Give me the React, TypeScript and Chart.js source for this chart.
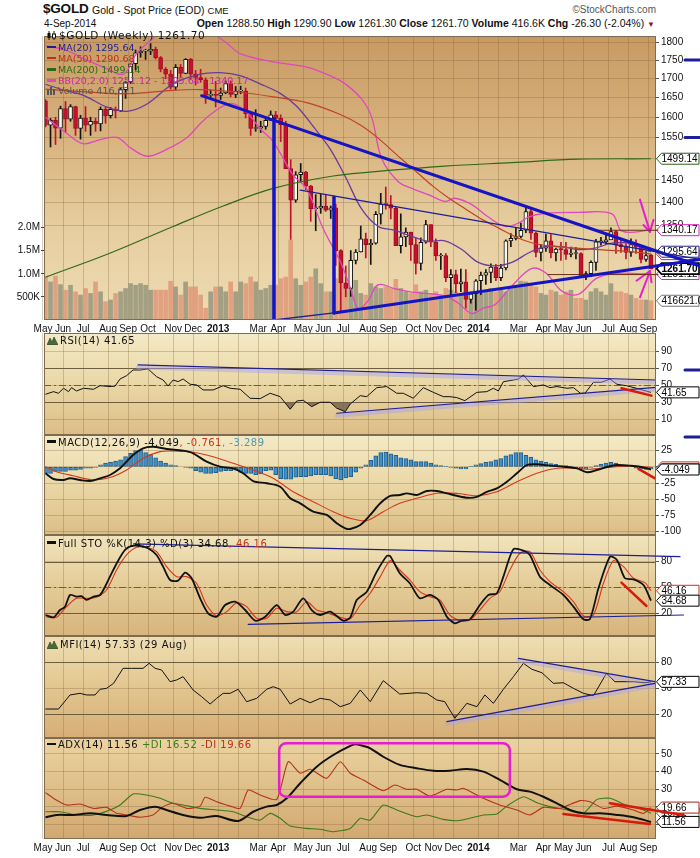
import React, { useEffect, useRef } from 'react';
import { Chart, registerables } from 'chart.js';

Chart.register(...registerables);

const FONT = '"Liberation Sans", Arial, Helvetica, sans-serif';
const LFONT = '"DejaVu Sans", Verdana, sans-serif';
const GRID = 'rgba(125,95,55,0.30)';
const X_MIN = -0.3;
const X_MAX = 122;

// week index 0 = week of 7 May 2012 ... 121 = week of 1 Sep 2014
const MONTH_TICKS = [0, 4, 8, 13, 17, 21, 26, 30, 35, 39, 43, 47, 52, 56, 60, 65, 69, 74, 78, 82, 87, 91, 95, 100, 104, 108, 113, 117, 121];
const MONTH_LABELS = ['May', 'Jun', 'Jul', 'Aug', 'Sep', 'Oct', 'Nov', 'Dec', '2013', '', 'Mar', 'Apr', 'May', 'Jun', 'Jul', 'Aug', 'Sep', 'Oct', 'Nov', 'Dec', '2014', '', 'Mar', 'Apr', 'May', 'Jun', 'Jul', 'Aug', 'Sep'];

const PRICE_TICKS = [1350, 1400, 1450, 1500, 1550, 1600, 1650, 1700, 1750, 1800];
const VOL_TICKS = [500000, 1000000, 1500000, 2000000];
const RSI_TICKS = [90, 70, 50, 30, 10];
const MACD_TICKS = [25, 0, -25, -50, -75, -100];
const STO_TICKS = [80, 50, 20];
const MFI_TICKS = [80, 50, 20];
const ADX_TICKS = [50, 40, 30, 20, 10];

const OPEN = [
  1642, 1580, 1592, 1573, 1622, 1595, 1627, 1572, 1598, 1580,
  1590, 1583, 1620, 1604, 1620, 1616, 1671, 1691, 1740, 1770,
  1775, 1775, 1780, 1757, 1725, 1712, 1677, 1730, 1714, 1752,
  1712, 1703, 1697, 1656, 1657, 1656, 1662, 1687, 1658, 1667,
  1667, 1609, 1572, 1573, 1577, 1592, 1606, 1597, 1581, 1476,
  1405, 1462, 1468, 1436, 1386, 1387, 1392, 1383, 1388, 1298,
  1234, 1223, 1278, 1295, 1322, 1310, 1313, 1374, 1396, 1395,
  1387, 1308, 1326, 1336, 1310, 1272, 1315, 1352, 1315, 1287,
  1288, 1244, 1250, 1232, 1236, 1202, 1213, 1238, 1249, 1254,
  1265, 1244, 1263, 1318, 1323, 1327, 1340, 1380, 1334, 1294,
  1303, 1318, 1293, 1301, 1300, 1290, 1292, 1292, 1245, 1252,
  1274, 1316, 1316, 1320, 1337, 1310, 1306, 1294, 1310, 1305,
  1280, 1288.5];
const HIGH = [
  1645, 1597, 1600, 1628, 1640, 1632, 1628, 1605, 1627, 1600,
  1598, 1626, 1625, 1625, 1626, 1675, 1692, 1740, 1778, 1787,
  1780, 1796, 1786, 1760, 1730, 1722, 1738, 1738, 1754, 1755,
  1722, 1725, 1702, 1670, 1693, 1675, 1694, 1694, 1679, 1680,
  1675, 1611, 1619, 1590, 1597, 1616, 1615, 1606, 1590, 1497,
  1469, 1488, 1470, 1438, 1417, 1418, 1416, 1392, 1396, 1300,
  1267, 1298, 1300, 1349, 1334, 1321, 1380, 1420, 1434, 1415,
  1390, 1375, 1345, 1336, 1324, 1324, 1361, 1352, 1322, 1292,
  1292, 1260, 1259, 1261, 1260, 1216, 1240, 1255, 1260, 1271,
  1270, 1270, 1320, 1333, 1346, 1355, 1392, 1385, 1336, 1310,
  1332, 1331, 1303, 1315, 1315, 1305, 1304, 1294, 1256, 1277,
  1321, 1325, 1332, 1345, 1340, 1320, 1312, 1322, 1320, 1305,
  1296, 1290.9];
const LOW = [
  1576, 1527, 1533, 1548, 1563, 1590, 1555, 1546, 1565, 1555,
  1565, 1566, 1585, 1598, 1598, 1614, 1648, 1687, 1724, 1758,
  1752, 1765, 1753, 1718, 1700, 1672, 1671, 1705, 1713, 1698,
  1683, 1690, 1635, 1650, 1626, 1645, 1660, 1652, 1650, 1660,
  1598, 1555, 1565, 1562, 1570, 1592, 1590, 1540, 1476, 1321,
  1400, 1444, 1428, 1359, 1339, 1376, 1380, 1365, 1268, 1180,
  1207, 1208, 1271, 1295, 1283, 1270, 1311, 1353, 1385, 1364,
  1308, 1293, 1306, 1278, 1251, 1259, 1313, 1306, 1278, 1260,
  1236, 1211, 1215, 1217, 1186, 1195, 1182, 1211, 1231, 1234,
  1238, 1238, 1259, 1306, 1320, 1324, 1335, 1321, 1285, 1277,
  1296, 1283, 1277, 1278, 1280, 1285, 1281, 1245, 1240, 1246,
  1258, 1309, 1310, 1321, 1292, 1294, 1281, 1286, 1292, 1273,
  1276, 1261.3];
const CLOSE = [
  1580, 1592, 1573, 1622, 1595, 1627, 1572, 1598, 1580, 1590,
  1583, 1620, 1604, 1620, 1616, 1671, 1691, 1740, 1770, 1775,
  1775, 1780, 1757, 1725, 1712, 1677, 1730, 1714, 1752, 1712,
  1703, 1697, 1656, 1657, 1656, 1662, 1687, 1658, 1667, 1667,
  1609, 1572, 1573, 1577, 1592, 1606, 1597, 1581, 1476, 1405,
  1462, 1468, 1436, 1386, 1387, 1392, 1383, 1388, 1298, 1234,
  1223, 1278, 1295, 1322, 1310, 1313, 1374, 1396, 1395, 1387,
  1308, 1326, 1336, 1310, 1272, 1315, 1352, 1315, 1287, 1288,
  1244, 1250, 1232, 1236, 1202, 1213, 1238, 1249, 1254, 1265,
  1244, 1263, 1318, 1323, 1327, 1340, 1380, 1334, 1294, 1303,
  1318, 1293, 1301, 1300, 1290, 1293, 1292, 1245, 1252, 1274,
  1316, 1316, 1320, 1337, 1310, 1306, 1294, 1310, 1305, 1280,
  1288, 1261.7];
// thousands
const VOLUME = [
  930, 824, 950, 765, 646, 752, 611, 540, 682, 575,
  824, 611, 398, 433, 575, 611, 682, 788, 752, 788,
  752, 646, 646, 646, 646, 840, 717, 540, 824, 717,
  717, 540, 256, 611, 717, 717, 611, 824, 611, 824,
  788, 930, 824, 646, 682, 752, 752, 895, 930, 1733,
  895, 752, 824, 930, 1108, 788, 611, 611, 895, 824,
  752, 682, 859, 575, 540, 788, 717, 682, 717, 682,
  880, 682, 611, 575, 765, 611, 646, 575, 611, 540,
  682, 646, 611, 540, 611, 433, 682, 611, 611, 682,
  611, 646, 611, 682, 752, 840, 824, 788, 717, 575,
  540, 646, 611, 540, 611, 646, 469, 469, 433, 611,
  682, 611, 540, 788, 611, 611, 575, 540, 469, 433,
  433, 416.6];

// [week, value] readings of overlay lines
const MA20 = [[0, 1685], [4, 1668], [7.6, 1656], [12.2, 1626], [16.2, 1615], [20.2, 1633], [25.5, 1686], [30.9, 1712], [34.9, 1716], [38.9, 1708], [42.9, 1686], [46.9, 1661], [50.2, 1628], [53.5, 1577], [56.9, 1522], [59.9, 1458], [63.2, 1385], [66.5, 1348], [69.8, 1340], [73.2, 1327], [76.5, 1317], [79.8, 1318], [83.2, 1300], [86.5, 1274], [89.8, 1267], [93.2, 1274], [96.5, 1293], [99.8, 1306], [103.2, 1306], [106.5, 1300], [109.8, 1303], [113.2, 1313], [116.5, 1313], [121, 1295.64]];
const MA50 = [[0, 1672], [8, 1665], [16.5, 1660], [25.5, 1669], [30.9, 1671], [38.9, 1664], [45.5, 1652], [52.2, 1637], [58.9, 1607], [63, 1580], [66.4, 1549], [70.8, 1502], [74, 1470], [77.4, 1436], [80.5, 1410], [84, 1385], [87.4, 1362], [90.5, 1345], [94.2, 1325], [97.5, 1313], [101, 1307], [106, 1303], [112, 1299], [117, 1296], [121, 1290.68]];
const MA200 = [[0, 1245], [12.2, 1290], [25.5, 1348], [35.5, 1392], [45.5, 1431], [57.5, 1459], [69.8, 1473], [79.8, 1482], [93.2, 1490], [106.4, 1498], [121, 1499.14]];
const BB_UP = [[0, 1790], [4, 1778], [8, 1752], [12, 1728], [15.6, 1712], [18.2, 1768], [21, 1805], [24, 1838], [28, 1848], [32, 1835], [36, 1800], [38.9, 1768], [45.5, 1745], [52.2, 1731], [57.5, 1704], [59.9, 1686], [63.2, 1646], [65.2, 1599], [67.2, 1499], [70.5, 1446], [73.2, 1431], [76.5, 1417], [79.8, 1402], [81.8, 1409], [85.2, 1395], [88.5, 1368], [91.8, 1348], [94.5, 1355], [96.5, 1368], [99.8, 1376], [106.5, 1378], [113.2, 1375], [115.2, 1338], [121, 1340.17]];
const BB_LOW = [[0, 1600], [4, 1562], [7.5, 1535], [11, 1545], [14.3, 1550], [17, 1525], [20.3, 1505], [24, 1520], [28.3, 1550], [31, 1585], [33.5, 1612], [37, 1635], [40, 1615], [43, 1570], [45.5, 1540], [49.5, 1461], [52.2, 1430], [55.5, 1343], [58.9, 1276], [60.9, 1225], [62.5, 1185], [64.5, 1200], [66.4, 1230], [70, 1222], [73.2, 1216], [79.8, 1209], [82.5, 1195], [85.2, 1176], [87.5, 1186], [89.8, 1192], [93.2, 1228], [97.2, 1262], [100, 1253], [103.2, 1218], [106.5, 1212], [110, 1242], [113.5, 1252], [121, 1251.12]];

const RSI = [[0, 39.4], [1.6, 42.5], [2.6, 40.6], [3.6, 46.5], [4.6, 42.5], [5.2, 47.2], [6.2, 43.3], [7.6, 46.5], [9.6, 45.3], [10.9, 49.5], [12.9, 48.5], [13.9, 49], [14.9, 57.4], [16.2, 61.3], [17.5, 68], [18.9, 68], [20.5, 69.2], [22.2, 60.1], [23.5, 56.2], [24.5, 49.2], [25.5, 56.2], [26.5, 54.3], [27.5, 57.4], [28.9, 51.2], [30.2, 50.4], [31.5, 44.5], [33.5, 44.5], [35.5, 49.5], [36.9, 46.5], [38.9, 45.3], [40.9, 34.7], [42.9, 34.3], [44.9, 40.6], [46.9, 36.6], [48.9, 21.8], [50.2, 31.5], [51.5, 32.4], [53.2, 24.8], [54.9, 30], [56.9, 30], [58.2, 23], [59.9, 19], [60.9, 28], [62.9, 37.8], [64.2, 36.6], [66.2, 47.2], [68.2, 48.5], [70.2, 40.6], [71.5, 40.6], [73.5, 34.7], [75.5, 47.2], [77.5, 41.7], [79.5, 36.6], [80.8, 36.6], [82.2, 35.5], [83.8, 31.9], [86.2, 41.7], [88.2, 42.5], [89.5, 46.5], [90.5, 43.3], [91.5, 54.2], [93.5, 56.2], [94.5, 57.4], [95.5, 62.1], [97.5, 48.4], [99.5, 50.4], [100.8, 47.2], [102.2, 48.5], [104.2, 46.5], [105.5, 47.2], [106.9, 40.6], [107.8, 40.6], [109.5, 53.5], [111.1, 53.5], [112.8, 57.4], [114.2, 51.2], [116.1, 49.5], [118.1, 46.5], [121, 41.65]];

const MACD = [[0, -9.9], [1.6, -18.7], [3.6, -20.2], [4.9, -17.6], [6.9, -20.2], [8.9, -21.8], [10.9, -17.6], [12.9, -12.5], [14.9, -2.2], [16.2, 8], [17.5, 18.4], [19.5, 28.7], [21.5, 31], [24.2, 27.6], [27.5, 25], [29.5, 21], [32.2, 8], [34.9, 0.3], [37.5, -2.2], [39.5, -9.9], [41.5, -21.8], [44.2, -25.3], [46.9, -30.6], [48.9, -48.5], [50.9, -56.2], [53.5, -69.1], [56.2, -74.2], [58.2, -87], [59.9, -94.8], [60.9, -95.8], [62.9, -89.7], [64.9, -74.2], [66.9, -56.2], [68.9, -44.9], [70.8, -43.4], [72.2, -40.8], [74.2, -43.4], [76.2, -37.2], [78.2, -37.2], [80.2, -40.8], [82.2, -44.6], [84.5, -47.7], [86.2, -46.2], [88.2, -38.5], [90.2, -33.3], [92.2, -23.1], [94.2, -9.9], [96.2, 2.9], [98.2, 4], [100.8, 1.9], [103.5, 0.3], [106.2, -2.2], [108.2, -8.3], [110.2, -4.8], [112.2, -0.2], [114.2, 2.9], [116.8, 1.9], [118.8, 0.3], [121, -4.049]];
const SIGNAL = [[0, 0.3], [2.2, -7.4], [5.5, -13.6], [9.5, -20.2], [12.9, -16.5], [16.2, -4.8], [19.5, 13.2], [22.9, 23.5], [25.5, 24.5], [29.5, 22.5], [33.5, 15.7], [37.5, 5.5], [41.5, -4.8], [45.5, -17.6], [49.5, -38.3], [53.5, -53.7], [57.5, -69.1], [60.9, -79.3], [64.2, -83], [67.5, -69.1], [70.8, -56.2], [74.2, -48.5], [78.2, -40.8], [82.2, -40.8], [86.2, -44.6], [90.2, -38.5], [94.2, -23.1], [98.2, -9.9], [102.2, -2.2], [106.2, -2.2], [108.8, -3.7], [112.8, -0.6], [116.8, 1.4], [121, -0.761]];
const HIST = [
  -10, -10, -7, -7, -7, -5, -5, -4, -2, -2,
  -1, 3, 6, 7, 9, 11, 16, 21, 25, 26,
  22, 19, 14, 9, 6, 3, 2, 0, -1, -2,
  -6, -8, -10, -10, -9, -7, -6, -6, -5, -8,
  -10, -10, -12, -11, -6, -5, -12, -18, -19, -19,
  -16, -15, -15, -14, -12, -12, -12, -14, -18, -20,
  -17, -15, -8, -2, 3, 10, 17, 22, 23, 20,
  18, 14, 13, 11, 8, 8, 8, 6, 3, 2,
  1, -1, -2, -3, -3, 1, 3, 5, 7, 8,
  11, 13, 17, 19, 22, 22, 18, 15, 11, 9,
  7, 5, 4, 2, 2, 1, -2, -3, -3, -1,
  2, 4, 6, 7, 6, 3, 2, 0, -2, -3,
  -4, -3.289];

const STO_K = [[0, 18], [1.6, 15.3], [2.9, 23.8], [3.9, 27.7], [4.9, 41.3], [6.2, 39.3], [7.2, 40], [8.2, 35.5], [9.6, 39.3], [10.9, 41.3], [11.9, 50.9], [13.2, 66.5], [14.6, 82], [15.9, 93.6], [17.2, 98.3], [18.9, 98.3], [20.5, 95.6], [22.2, 87.8], [23.5, 74.2], [24.9, 58.7], [26.5, 57.9], [27.9, 67.2], [29.2, 60.7], [30.9, 37.4], [32.5, 20], [34.2, 16], [35.9, 29.6], [37.9, 33.5], [39.9, 23.8], [41.9, 11.4], [43.9, 16], [46.2, 29.6], [47.9, 18], [49.5, 21.9], [51.5, 37.4], [53.2, 23.8], [54.9, 18], [56.9, 21.9], [59.5, 11.4], [60.9, 15], [62.2, 35.5], [64.2, 45.1], [66.2, 68.4], [68.2, 86.6], [68.9, 86.3], [70.8, 66.5], [72.8, 54.9], [74.8, 37.4], [76.8, 41.3], [78.5, 35.5], [80.2, 16], [81.8, 8.4], [83.2, 11.4], [84.8, 13], [86.8, 29.6], [88.5, 41.3], [90.2, 43.3], [91.5, 62.6], [93.5, 94.4], [95.5, 92.8], [96.8, 87.8], [98.8, 62.6], [100.8, 52.9], [103.5, 41.3], [105.5, 27.7], [107.5, 13], [108.8, 13.3], [110.5, 49.1], [112.8, 85.8], [114.2, 82], [115.8, 60.7], [117.5, 59.5], [119.5, 52.9], [121, 34.68]];
const STO_D = [[0, 16], [2.2, 15.3], [4.2, 27.7], [6.2, 37.4], [8.2, 37.4], [10.2, 38.6], [12.2, 47.1], [14.2, 70.3], [16.2, 87.8], [18.2, 96.7], [20.2, 96.7], [22.2, 91.6], [24.2, 74.2], [26.2, 62.6], [28.2, 62.6], [30.2, 54.9], [32.2, 29.6], [34.2, 16.9], [36.2, 21.9], [38.2, 32.3], [40.2, 27.7], [42.2, 14.2], [44.2, 14.2], [46.2, 25.8], [48.2, 21.9], [50.2, 21.9], [52.2, 33.5], [54.2, 23.8], [56.2, 20.7], [58.9, 15.3], [60.9, 13.5], [62.9, 29.6], [64.9, 43.3], [66.9, 62.6], [68.9, 81.2], [70.8, 70.3], [72.8, 58.7], [74.8, 45.1], [76.8, 39.3], [78.8, 35.5], [80.8, 18], [82.8, 11.4], [84.8, 12.2], [86.8, 23.8], [88.8, 37.4], [90.8, 45.1], [92.8, 70.3], [94.8, 89.8], [96.8, 91.6], [98.8, 70.3], [100.8, 56.7], [103.5, 45.1], [105.5, 33.5], [107.5, 16.9], [109.5, 18], [111.5, 54.9], [113.5, 81.2], [115.5, 74.2], [117.5, 60.7], [119.8, 55.6], [121, 46.16]];

const MFI = [[0, 25.8], [2.6, 25.8], [4.9, 42.1], [6.9, 44], [8.2, 42.1], [9.9, 42.1], [10.9, 48.7], [12.2, 49.8], [13.6, 55.6], [15.5, 73], [17.2, 73], [19.5, 73], [20.7, 78.8], [21.9, 73], [23.2, 71.1], [24.9, 57.5], [26.2, 59.5], [27.5, 63.3], [29.5, 47.9], [31.2, 40.1], [32.9, 31.6], [34.2, 38.2], [35.5, 44], [36.9, 44], [38.5, 48.7], [40.2, 34.3], [42.2, 38.2], [44.2, 48.7], [45.5, 51.7], [46.9, 48.7], [48.9, 31.6], [50.9, 38.2], [52.9, 33.1], [54.9, 38.2], [56.9, 36.3], [58.9, 28.5], [60.9, 32.4], [62.9, 47.9], [64.9, 34.3], [67.5, 58.7], [70.8, 43.2], [74.2, 44.7], [76.2, 44], [78.2, 36.3], [79.8, 34.3], [81.8, 15], [84.2, 32.4], [86.2, 28.5], [87.8, 42.1], [89.5, 32.4], [91.5, 48.7], [93.5, 63.3], [95.5, 78.8], [97.2, 71.9], [99.2, 67.9], [101.5, 55.6], [103.5, 56.3], [105.5, 49.8], [107.5, 44], [109.5, 41.3], [112.1, 67.2], [113.8, 57.5], [117.5, 57.5], [119.8, 56.3], [121, 57.33]];

const ADX = [[0, 14.2], [2.2, 15.5], [5.5, 15.5], [8.9, 16.4], [12.2, 15.5], [16.2, 14.9], [18.9, 18.3], [21.9, 20.2], [24.2, 18.3], [27.5, 15.5], [30.9, 13.9], [34.2, 14.9], [38.5, 12.1], [41.5, 17.3], [44.2, 20.2], [46.2, 21.1], [48.2, 24.9], [50.9, 33.4], [54.2, 42.8], [57.5, 49.4], [60.9, 54.6], [62, 55.5], [63.5, 54.5], [64.9, 53.2], [67.5, 48.4], [70.8, 43.8], [74.2, 41.9], [77.5, 40.5], [80.8, 40.5], [84.2, 41.5], [87.5, 40], [90.8, 35.3], [94.2, 30], [96.8, 28.7], [99.5, 25.8], [102.2, 22.1], [104.8, 18.3], [107.5, 16.4], [110.8, 16.4], [114.2, 15.5], [117.5, 14.2], [121, 11.56]];
const PLUS_DI = [[0, 17.3], [2.9, 17.3], [6.2, 15.5], [9.6, 15.5], [12.9, 18.3], [14.9, 21.1], [17.5, 27.3], [20.2, 26.8], [22.9, 24.9], [25.5, 22.1], [27.5, 21.1], [30.9, 19.2], [34.2, 18.3], [37.5, 17.3], [40.2, 14.5], [42.9, 12.6], [44.9, 16.4], [46.9, 13.6], [48.9, 9.2], [52.2, 7.9], [54.9, 7.4], [57.5, 6], [60.9, 7.9], [62.9, 13.6], [64.9, 12.6], [67.5, 21.1], [70.2, 18.3], [74.2, 14.5], [76.2, 15.5], [79.5, 13], [82.2, 12.2], [84.8, 13.6], [87.5, 15.5], [90.2, 16], [92.2, 20.5], [95.5, 25.8], [98.2, 22.4], [100.8, 20.2], [104.2, 18.3], [107.5, 16.4], [110.2, 24.3], [112.8, 24.9], [115.5, 21.7], [118.8, 19], [121, 16.52]];
const MINUS_DI = [[0, 28.1], [1.6, 24.9], [4.2, 21.1], [6.9, 21.7], [9.6, 19.2], [12.2, 19.8], [14.2, 16.4], [16.2, 15.5], [18.9, 14.2], [21.5, 15.5], [23.5, 20.2], [25.5, 22.1], [28.2, 19.2], [30.9, 20.5], [31.9, 25.5], [34.2, 23], [36.9, 20.5], [38.9, 19.2], [40.5, 29.6], [42.9, 26.8], [46.2, 24.3], [48.5, 45.6], [50.9, 39.1], [52.9, 41.3], [56.2, 36.2], [58.9, 45.6], [60.9, 39.1], [63.5, 35.3], [67.5, 29.2], [69.8, 32.4], [72.2, 30], [74.2, 30], [76.8, 26.2], [80.2, 30], [82.2, 29.6], [83.5, 30.6], [87.5, 24.9], [90.8, 21.1], [94.2, 18.3], [96.8, 15.5], [99.5, 19.8], [102.8, 19.2], [106.8, 23.6], [108.8, 23], [111.5, 19.2], [114.2, 20.5], [117.5, 18.3], [119.5, 16.4], [121, 19.66]];

const pairs = (a: number[][]) => a.map(([x, y]) => ({ x, y }));

function tracePath(ctx: any, chart: any, s: any, dy: number) {
  const xs = chart.scales.x;
  const ys = chart.scales[s.axis || 'y'];
  ctx.beginPath();
  s.pts.forEach((pt: number[], k: number) => {
    const px = xs.getPixelForValue(pt[0]);
    const py = ys.getPixelForValue(pt[1]) + dy;
    if (k === 0) ctx.moveTo(px, py); else ctx.lineTo(px, py);
  });
}

function drawSeg(chart: any, s: any) {
  const { ctx, chartArea: ca } = chart;
  ctx.save();
  if (!s.noclip) {
    ctx.beginPath();
    ctx.rect(ca.left, ca.top, ca.right - ca.left, ca.bottom - ca.top);
    ctx.clip();
  }
  ctx.lineCap = 'round';
  ctx.lineJoin = 'round';
  if (s.shadow) {
    tracePath(ctx, chart, s, 2.5);
    ctx.strokeStyle = s.shadow;
    ctx.lineWidth = 4;
    ctx.stroke();
  }
  tracePath(ctx, chart, s, 0);
  ctx.setLineDash(s.dash || []);
  ctx.strokeStyle = s.color;
  ctx.lineWidth = s.width;
  ctx.stroke();
  ctx.restore();
}

function drawTag(chart: any, t: any) {
  const { ctx, chartArea: ca } = chart;
  const y = chart.scales[t.axis || 'y'].getPixelForValue(t.v);
  const x = ca.right + 0.5;
  const h = 11;
  const R = 699;
  ctx.save();
  ctx.beginPath();
  ctx.moveTo(x, y);
  ctx.lineTo(x + 5, y - h / 2);
  ctx.lineTo(R, y - h / 2);
  ctx.lineTo(R, y + h / 2);
  ctx.lineTo(x + 5, y + h / 2);
  ctx.closePath();
  ctx.fillStyle = '#ffffff';
  ctx.fill();
  ctx.lineWidth = t.bold ? 1.6 : 1;
  ctx.strokeStyle = t.color;
  ctx.stroke();
  ctx.fillStyle = '#000';
  ctx.font = `${t.bold ? 'bold ' : ''}10px ${FONT}`;
  ctx.textBaseline = 'middle';
  ctx.textAlign = 'left';
  ctx.fillText(t.text, x + 5, y + 0.5);
  ctx.restore();
}

function makePanel(p: any) {
  return {
    id: 'panel',
    beforeDraw(chart: any) {
      const { ctx, chartArea: ca } = chart;
      const g = ctx.createLinearGradient(0, ca.top, 0, ca.bottom);
      p.bg.forEach((c: string, k: number) => g.addColorStop(k / (p.bg.length - 1), c));
      ctx.save();
      ctx.fillStyle = g;
      ctx.fillRect(ca.left, ca.top, ca.right - ca.left, ca.bottom - ca.top);
      ctx.restore();
    },
    beforeDatasetsDraw(chart: any) {
      const { ctx, chartArea: ca, scales } = chart;
      ctx.save();
      (p.hlines || []).forEach((h: any) => {
        const y = Math.round(scales.y.getPixelForValue(h.v)) + 0.5;
        ctx.beginPath();
        ctx.setLineDash(h.dash || []);
        ctx.strokeStyle = '#6e5d3f';
        ctx.lineWidth = 1;
        ctx.moveTo(ca.left, y);
        ctx.lineTo(ca.right, y);
        ctx.stroke();
      });
      ctx.restore();
    },
    afterDatasetsDraw(chart: any) {
      const { ctx } = chart;
      (p.segs || []).filter((s: any) => !s.noclip).forEach((s: any) => drawSeg(chart, s));
      (p.rects || []).forEach((r: any) => {
        const xs = chart.scales.x;
        const ys = chart.scales.y;
        const x1 = xs.getPixelForValue(r.x1);
        const x2 = xs.getPixelForValue(r.x2);
        const y1 = ys.getPixelForValue(r.y1);
        const y2 = ys.getPixelForValue(r.y2);
        ctx.save();
        ctx.strokeStyle = r.color;
        ctx.lineWidth = r.width;
        ctx.beginPath();
        ctx.roundRect(x1, y1, x2 - x1, y2 - y1, 7);
        ctx.stroke();
        ctx.restore();
      });
    },
    afterDraw(chart: any) {
      const { ctx, chartArea: ca } = chart;
      ctx.save();
      ctx.strokeStyle = '#7d6c52';
      ctx.lineWidth = 1;
      ctx.strokeRect(Math.round(ca.left) + 0.5, Math.round(ca.top) + 0.5, Math.round(ca.right - ca.left) - 1, Math.round(ca.bottom - ca.top) - 1);
      ctx.restore();
      (p.tags || []).forEach((t: any) => drawTag(chart, t));
      (p.segs || []).filter((s: any) => s.noclip).forEach((s: any) => drawSeg(chart, s));
    },
  };
}

const xScale = (labels: boolean, h: number) => ({
  type: 'linear',
  min: X_MIN,
  max: X_MAX,
  offset: false,
  afterBuildTicks: (s: any) => { s.ticks = MONTH_TICKS.map((v) => ({ value: v - 0.5 })); },
  afterFit: (s: any) => { s.height = h; },
  grid: { color: GRID, lineWidth: 1, drawTicks: false, offset: false },
  border: { display: false },
  ticks: {
    display: labels,
    autoSkip: false,
    maxRotation: 0,
    minRotation: 0,
    padding: 3,
    color: '#111',
    font: (c: any) => ({ family: FONT, size: 10, weight: /^\d{4}$/.test(MONTH_LABELS[c.index] || '') ? 'bold' : 'normal' }),
    callback: (_v: any, i: number) => MONTH_LABELS[i],
  },
});

const yRight = (min: number, max: number, ticks: number[], type = 'linear') => ({
  type,
  position: 'right',
  min,
  max,
  afterBuildTicks: (s: any) => { s.ticks = ticks.map((v) => ({ value: v })); },
  afterFit: (s: any) => { s.width = 44; },
  grid: { color: GRID, lineWidth: 1, tickLength: 3, tickColor: '#555' },
  border: { display: false },
  ticks: { padding: 2, color: '#111', font: { family: FONT, size: 10 }, callback: (v: any) => String(v) },
});

const baseOptions = (padTop: number, padBottom: number, padLeft: number, scales: any) => ({
  responsive: false,
  animation: false,
  events: [],
  layout: { padding: { top: padTop, bottom: padBottom, left: padLeft, right: 0 } },
  plugins: { legend: { display: false }, tooltip: { enabled: false } },
  scales,
});

const line = (data: number[][], color: string, width: number, tension: number, extra: any = {}) => ({
  type: 'line',
  data: pairs(data),
  borderColor: color,
  borderWidth: width,
  pointRadius: 0,
  tension,
  yAxisID: 'y',
  order: 1,
  ...extra,
});

const BLUE = '#1414c4';
const NAVY = '#1e1e96';
const HAND_RED = '#d81a0a';
const MAGENTA = '#e51fd0';

function mainConfig() {
  const up = CLOSE.map((c, i) => c >= OPEN[i]);
  const volUp = CLOSE.map((c, i) => (i === 0 ? false : c >= CLOSE[i - 1]));
  const panel = makePanel({
    bg: ['#c89a63', '#d7b17c', '#e6cd9f', '#eedcb3'],
    segs: [
      { pts: [[45.66, 1597], [45.66, 1164]], color: BLUE, width: 3.5 },
      { pts: [[57.65, 1411], [57.65, 1177]], color: BLUE, width: 3.5 },
      { pts: [[45.7, 1164], [57.65, 1177]], color: NAVY, width: 1.3 },
      { pts: [[109.8, 1340], [122.4, 1340]], color: '#6b2c18', width: 1, noclip: true },
      { pts: [[100.4, 1250], [122.4, 1250]], color: '#6b2c18', width: 1, noclip: true },
      { pts: [[118.8, 1406], [120.8, 1337]], color: MAGENTA, width: 2 },
      { pts: [[119.5, 1351], [120.8, 1337], [121.5, 1362]], color: MAGENTA, width: 2 },
      { pts: [[118.8, 1206], [120.8, 1257]], color: MAGENTA, width: 2 },
      { pts: [[118.1, 1238], [120.8, 1257], [121.1, 1235]], color: MAGENTA, width: 2 },
      { pts: [[31.2, 1655], [130.8, 1267]], color: BLUE, width: 3, noclip: true },
      { pts: [[50.9, 1427], [130.8, 1280]], color: NAVY, width: 1.3, noclip: true },
      { pts: [[57.65, 1177], [130.8, 1280]], color: BLUE, width: 3, noclip: true },
      { pts: [[127.8, 1750], [130.8, 1750]], color: NAVY, width: 3, noclip: true },
      { pts: [[127.8, 1550], [130.8, 1550]], color: NAVY, width: 3, noclip: true },
    ],
    tags: [
      { v: 1499.14, text: '1499.14', color: '#2e5e16' },
      { v: 1340.17, text: '1340.17', color: '#d426b8' },
      { v: 1290.68, text: '1290.68', color: '#c0301c' },
      { v: 1295.64, text: '1295.64', color: '#22228c' },
      { v: 1251.12, text: '1251.12', color: '#d426b8' },
      { v: 416621, text: '416621.0', color: '#777', axis: 'yv' },
      { v: 1261.7, text: '1261.70', color: '#000', bold: true },
    ],
  });
  return {
    type: 'bar',
    data: {
      datasets: [
        { type: 'bar', yAxisID: 'yv', data: VOLUME.map((v, i) => ({ x: i, y: v * 1000 })), backgroundColor: volUp.map((u) => (u ? 'rgba(146,146,122,0.82)' : 'rgba(222,148,116,0.8)')), barThickness: 4, grouped: false, order: 10 },
        { type: 'bar', yAxisID: 'y', data: LOW.map((l, i) => ({ x: i, y: [l, HIGH[i]] })), backgroundColor: up.map((u) => (u ? '#151515' : '#c4102c')), barThickness: 1, grouped: false, order: 4 },
        { type: 'bar', yAxisID: 'y', data: OPEN.map((o, i) => ({ x: i, y: [o, CLOSE[i]] })), backgroundColor: up.map((u) => (u ? '#fbf6ea' : '#c8102e')), borderColor: up.map((u) => (u ? '#111' : '#a00c24')), borderWidth: 1, borderSkipped: false, barThickness: 4, minBarLength: 1, grouped: false, order: 3 },
        line(MA200, '#2e6b18', 1.2, 0.35),
        line(MA50, '#bf4426', 1.2, 0.35),
        line(BB_UP, '#e048bd', 1.3, 0.35),
        line(BB_LOW, '#e048bd', 1.3, 0.35),
        line(MA20, '#6c3a9c', 1.3, 0.35),
      ],
    },
    options: baseOptions(2, 0, 0, {
      x: xScale(true, 14),
      y: yRight(1164, 1817.5, PRICE_TICKS, 'logarithmic'),
      yv: {
        type: 'linear',
        position: 'left',
        min: 0,
        max: 6150000,
        afterBuildTicks: (s: any) => { s.ticks = VOL_TICKS.map((v) => ({ value: v })); },
        afterFit: (s: any) => { s.width = 44; },
        grid: { drawOnChartArea: false, tickLength: 3, tickColor: '#444' },
        border: { display: false },
        ticks: { padding: 1, color: '#111', font: { family: FONT, size: 10 }, callback: (v: any) => (v >= 1e6 ? (v / 1e6).toFixed(1) + 'M' : v / 1e3 + 'K') },
      },
    }),
    plugins: [panel],
  };
}

function indConfig(datasets: any[], min: number, max: number, ticks: number[], p: any, opts: any = {}) {
  const labels = !!opts.labels;
  return {
    type: 'bar',
    data: { datasets },
    options: baseOptions(8, labels ? 0 : 8, 44, {
      x: xScale(labels, labels ? 19 : 0),
      y: yRight(min, max, ticks),
    }),
    plugins: [makePanel(p)],
  };
}

const LOWFILL = 'rgba(122,102,78,0.88)';
const IND_BG = ['#f4eac6', '#ead7a6', '#dcbd86'];

function rsiConfig() {
  return indConfig([
    line(RSI, '#111', 1, 0, { fill: { target: { value: 30 }, above: 'rgba(0,0,0,0)', below: LOWFILL } }),
  ], -8.5, 111.5, RSI_TICKS, {
    bg: IND_BG,
    hlines: [{ v: 70 }, { v: 30 }, { v: 50, dash: [7, 3, 2, 3] }],
    segs: [
      { pts: [[18.5, 73.9], [122.1, 56.2]], color: NAVY, width: 1.2, shadow: 'rgba(165,160,245,0.45)' },
      { pts: [[58.2, 17.1], [122.1, 47.6]], color: NAVY, width: 1.2, shadow: 'rgba(165,160,245,0.45)' },
      { pts: [[115.1, 46.5], [121.1, 37.8]], color: HAND_RED, width: 2.5 },
      { pts: [[127.8, 68], [130.8, 68]], color: NAVY, width: 3, noclip: true },
    ],
    tags: [{ v: 41.65, text: '41.65', color: '#000' }],
  });
}

function macdConfig() {
  return indConfig([
    { type: 'bar', yAxisID: 'y', data: HIST.map((v, i) => ({ x: i, y: v })), backgroundColor: '#3f90c8', borderColor: '#225f8c', borderWidth: 1, borderSkipped: false, barThickness: 4, grouped: false, order: 5 },
    line(SIGNAL, '#d4381c', 1.1, 0.3, { order: 2 }),
    line(MACD, '#111', 1.9, 0.3, { order: 1 }),
  ], -105.1, 49.2, MACD_TICKS, {
    bg: IND_BG,
    segs: [
      { pts: [[118.5, -3.2], [121.8, -17.6]], color: HAND_RED, width: 2.5 },
      { pts: [[127.8, 46], [130.8, 46]], color: NAVY, width: 3, noclip: true },
    ],
    tags: [
      { v: -0.761, text: '-0.761', color: '#c8341a' },
      { v: -3.289, text: '-3.289', color: '#3f90c8' },
      { v: -4.049, text: '-4.049', color: '#000' },
    ],
  });
}

function stoConfig() {
  return indConfig([
    line(STO_D, '#d4381c', 1.1, 0.25, { order: 2 }),
    line(STO_K, '#111', 1.8, 0.25, { order: 1 }),
  ], -6.4, 111, STO_TICKS, {
    bg: ['#f1e4bc', '#e4cc98', '#d7b47c'],
    hlines: [{ v: 80 }, { v: 20 }, { v: 50, dash: [7, 3, 2, 3] }],
    segs: [
      { pts: [[115.1, 55.6], [120.1, 28.5]], color: HAND_RED, width: 2.5 },
      { pts: [[17.6, 100.6], [126.8, 85.8]], color: NAVY, width: 1.2, noclip: true },
      { pts: [[40.5, 7.2], [127.5, 18]], color: NAVY, width: 1.2, noclip: true },
    ],
    tags: [
      { v: 46.16, text: '46.16', color: '#c8341a' },
      { v: 34.68, text: '34.68', color: '#000' },
    ],
  });
}

function mfiConfig() {
  return indConfig([
    line(MFI, '#111', 1, 0, { fill: { target: { value: 20 }, above: 'rgba(0,0,0,0)', below: LOWFILL } }),
  ], -7.8, 110.5, MFI_TICKS, {
    bg: ['#efdfb4', '#e2c68f', '#d6ae76'],
    hlines: [{ v: 80 }, { v: 20 }],
    segs: [
      { pts: [[94.5, 84.6], [121.8, 57.5]], color: NAVY, width: 1.2, shadow: 'rgba(165,160,245,0.4)' },
      { pts: [[80.2, 11.1], [121.8, 55.6]], color: NAVY, width: 1.2, shadow: 'rgba(165,160,245,0.4)' },
    ],
    tags: [{ v: 57.33, text: '57.33', color: '#000' }],
  });
}

function adxConfig() {
  return indConfig([
    line(PLUS_DI, '#3c7a18', 1.1, 0.2, { order: 3 }),
    line(MINUS_DI, '#b4321a', 1.1, 0.2, { order: 2 }),
    line(ADX, '#111', 2, 0.3, { order: 1 }),
  ], 1.9, 59, ADX_TICKS, {
    bg: ['#ebd3a2', '#dfbf88', '#d2a870'],
    segs: [
      { pts: [[103.5, 16], [120.8, 10.4]], color: HAND_RED, width: 2.5 },
      { pts: [[112.8, 22.1], [127.5, 15.5]], color: HAND_RED, width: 2.5, noclip: true },
    ],
    rects: [{ x1: 46.7, y1: 56, x2: 92.8, y2: 25.8, color: MAGENTA, width: 2.5 }],
    tags: [
      { v: 16.52, text: '16.52', color: '#3c7a18' },
      { v: 19.66, text: '19.66', color: '#a0281a' },
      { v: 11.56, text: '11.56', color: '#000' },
    ],
  }, { labels: true });
}

const Dash = ({ c }: { c: string }) => (
  <span style={{ display: 'inline-block', width: 9, height: 2.5, background: c, verticalAlign: 'middle', marginRight: 2, marginTop: -2 }} />
);

const Mountain = () => (
  <svg width="11" height="9" viewBox="0 0 11 9" style={{ verticalAlign: 'middle', marginRight: 2, marginTop: -2 }}>
    <polygon points="0,9 3,2 5,6 7,1 11,9" fill="#4a6a3a" stroke="#2a3a20" strokeWidth="0.6" />
  </svg>
);

const CandleIcon = () => (
  <svg width="10" height="9" viewBox="0 0 10 9" style={{ verticalAlign: 'middle', marginRight: 2, marginTop: -2 }}>
    <line x1="2" y1="0" x2="2" y2="9" stroke="#111" />
    <rect x="0.5" y="2" width="3" height="5" fill="#111" />
    <line x1="7" y1="0" x2="7" y2="9" stroke="#111" />
    <rect x="5.5" y="3" width="3" height="4" fill="#fff" stroke="#111" />
  </svg>
);

const BarsIcon = () => (
  <svg width="10" height="9" viewBox="0 0 10 9" style={{ verticalAlign: 'middle', marginRight: 1, marginTop: -2 }}>
    <rect x="0" y="4" width="2" height="5" fill="#555" />
    <rect x="3" y="1" width="2" height="8" fill="#555" />
    <rect x="6" y="3" width="2" height="6" fill="#555" />
  </svg>
);

const legStyle = (top: number): React.CSSProperties => ({
  position: 'absolute', left: 47, top, font: `10px ${LFONT}`, letterSpacing: 0.5, lineHeight: '12px', whiteSpace: 'nowrap', color: '#111',
});

const mainLeg = (top: number, color: string, size = 9.5): React.CSSProperties => ({
  position: 'absolute', left: 47, top, font: `${size}px ${LFONT}`, letterSpacing: size > 10 ? 0.6 : 0, lineHeight: '11px', whiteSpace: 'nowrap', color,
});

export default function App() {
  const mainRef = useRef<HTMLCanvasElement>(null);
  const rsiRef = useRef<HTMLCanvasElement>(null);
  const macdRef = useRef<HTMLCanvasElement>(null);
  const stoRef = useRef<HTMLCanvasElement>(null);
  const mfiRef = useRef<HTMLCanvasElement>(null);
  const adxRef = useRef<HTMLCanvasElement>(null);

  useEffect(() => {
    const charts = [
      new Chart(mainRef.current as any, mainConfig() as any),
      new Chart(rsiRef.current as any, rsiConfig() as any),
      new Chart(macdRef.current as any, macdConfig() as any),
      new Chart(stoRef.current as any, stoConfig() as any),
      new Chart(mfiRef.current as any, mfiConfig() as any),
      new Chart(adxRef.current as any, adxConfig() as any),
    ];
    return () => charts.forEach((c) => c.destroy());
  }, []);

  const cv = (top: number): React.CSSProperties => ({ position: 'absolute', left: 0, top });

  return (
    <div style={{ position: 'absolute', left: 0, top: 0, width: 700, height: 858, background: '#fff', overflow: 'hidden', fontFamily: FONT, color: '#111' }}>
      <div style={{ position: 'absolute', left: 43, top: 0, font: `bold 13.5px ${FONT}`, letterSpacing: -0.2, lineHeight: '18px' }}>$GOLD</div>
      <div style={{ position: 'absolute', left: 92, top: 2, font: `10.5px ${FONT}`, lineHeight: '16px' }}>Gold - Spot Price (EOD) <span style={{ fontSize: 9.5 }}>CME</span></div>
      <div style={{ position: 'absolute', right: 44, top: 3, font: `10px ${FONT}`, lineHeight: '13px', color: '#555' }}>©StockCharts.com</div>
      <div style={{ position: 'absolute', left: 44, top: 17, font: `10px ${FONT}`, lineHeight: '13px' }}>4-Sep-2014</div>
      <div style={{ position: 'absolute', right: 45, top: 17, font: `10.5px ${FONT}`, lineHeight: '13px', whiteSpace: 'nowrap' }}>
        <b>Open</b> 1288.50 <b>High</b> 1290.90 <b>Low</b> 1261.30 <b>Close</b> 1261.70 <b>Volume</b> 416.6K <b>Chg</b> -26.30 (-2.04%) <span style={{ color: '#8b1a2a', fontSize: 8 }}>▼</span>
      </div>

      <canvas ref={mainRef} width={700} height={306} style={cv(28)} />
      <canvas ref={rsiRef} width={700} height={118} style={cv(325)} />
      <canvas ref={macdRef} width={700} height={116} style={cv(427)} />
      <canvas ref={stoRef} width={700} height={117} style={cv(527)} />
      <canvas ref={mfiRef} width={700} height={118} style={cv(628)} />
      <canvas ref={adxRef} width={700} height={128} style={cv(730)} />

      <div style={mainLeg(30, '#111', 10.5)}><CandleIcon />$GOLD (Weekly) 1261.70</div>
      <div style={mainLeg(41.5, '#1e1e8c')}><Dash c="#1e1e8c" />MA(20) 1295.64</div>
      <div style={mainLeg(52.5, '#c0301c')}><Dash c="#c0301c" />MA(50) 1290.68</div>
      <div style={mainLeg(64, '#2a6a12')}><Dash c="#2a6a12" />MA(200) 1499.14</div>
      <div style={mainLeg(75, '#d420b4')}><Dash c="#e048bd" />BB(20,2.0) 1251.12 - 1295.64 - 1340.17</div>
      <div style={mainLeg(85, '#555')}><BarsIcon />Volume 416,621</div>

      <div style={legStyle(335)}><Mountain />RSI(14) 41.65</div>
      <div style={legStyle(436.5)}><Dash c="#111" />MACD(12,26,9) -4.049<span style={{ color: '#c8341a' }}>, -0.761</span><span style={{ color: '#4b9bb0' }}>, -3.289</span></div>
      <div style={legStyle(537.5)}><Dash c="#111" />Full STO %K(14,3) %D(3) 34.68<span style={{ color: '#c8341a' }}>, 46.16</span></div>
      <div style={legStyle(639)}><Mountain />MFI(14) 57.33 (29 Aug)</div>
      <div style={legStyle(739)}><Dash c="#111" />ADX(14) 11.56 <span style={{ color: '#3c7a18' }}>+DI 16.52</span> <span style={{ color: '#b4321a' }}>-DI 19.66</span></div>
    </div>
  );
}
